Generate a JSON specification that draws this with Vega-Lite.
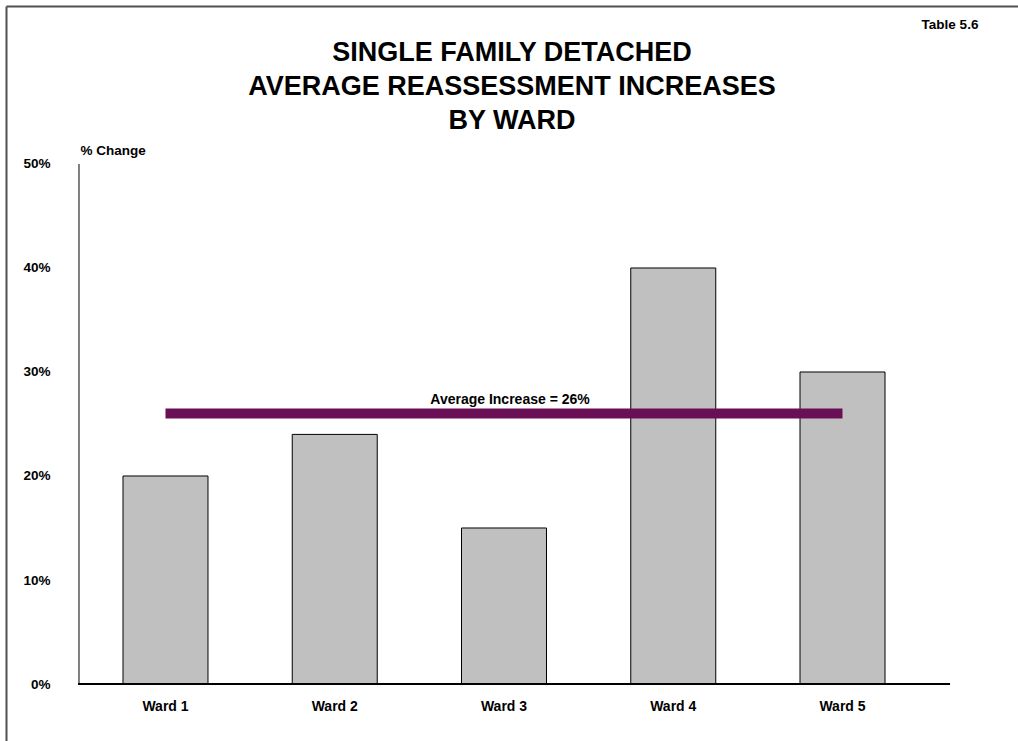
{
  "$schema": "https://vega.github.io/schema/vega-lite/v6.json",
  "width": 1012,
  "height": 735,
  "autosize": {"type": "none"},
  "padding": {"left": 6, "top": 6, "right": 0, "bottom": 0},
  "background": "white",
  "title": {
    "text": ["SINGLE FAMILY DETACHED", "AVERAGE REASSESSMENT INCREASES", "BY WARD"],
    "orient": "top",
    "anchor": "middle",
    "frame": "group",
    "offset": -128.5,
    "baseline": "top",
    "lineHeight": 34,
    "font": "Liberation Sans",
    "fontSize": 27,
    "fontWeight": "bold",
    "color": "black"
  },
  "config": {"view": {"stroke": null}, "font": "Liberation Sans"},
  "datasets": {
    "wards": [
      {"ward": "Ward 1", "change": 0.20},
      {"ward": "Ward 2", "change": 0.24},
      {"ward": "Ward 3", "change": 0.15},
      {"ward": "Ward 4", "change": 0.40},
      {"ward": "Ward 5", "change": 0.30}
    ],
    "average": [{"label": "Average Increase", "value": 0.26}],
    "furniture": [{}]
  },
  "layer": [
    {
      "data": {"name": "wards"},
      "mark": {"type": "bar", "fill": "#c0c0c0", "stroke": "black", "strokeWidth": 1},
      "encoding": {
        "x": {
          "field": "ward",
          "type": "nominal",
          "sort": null,
          "scale": {"paddingInner": 0.4978, "paddingOuter": 0.7385, "align": 0.468},
          "axis": {
            "orient": "top",
            "domain": true,
            "domainColor": "#505050",
            "domainWidth": 2,
            "labels": false,
            "ticks": false,
            "grid": false,
            "title": "Table 5.6",
            "titleX": 943.5,
            "titleY": 18,
            "titleAlign": "center",
            "titleBaseline": "middle",
            "titleAngle": 0,
            "titleFont": "Liberation Sans",
            "titleFontSize": 13.5,
            "titleFontWeight": "bold",
            "titleColor": "black"
          }
        },
        "y": {
          "field": "change",
          "type": "quantitative",
          "scale": {"domain": [-0.0548, 0.6519], "nice": false, "zero": false},
          "axis": {
            "orient": "left",
            "values": [0, 0.1, 0.2, 0.3, 0.4, 0.5],
            "format": ".0%",
            "domain": true,
            "domainColor": "#505050",
            "domainWidth": 2,
            "ticks": false,
            "tickSize": 0,
            "grid": false,
            "labelPadding": -44,
            "labelAlign": "right",
            "labelBaseline": "middle",
            "labelFont": "Liberation Sans",
            "labelFontSize": 13.5,
            "labelFontWeight": "bold",
            "labelColor": "black",
            "labelOverlap": false,
            "labelFlush": false,
            "title": "% Change",
            "titleAngle": 0,
            "titleX": 74,
            "titleY": 144,
            "titleAlign": "left",
            "titleBaseline": "middle",
            "titleFont": "Liberation Sans",
            "titleFontSize": 13.5,
            "titleFontWeight": "bold",
            "titleColor": "black"
          }
        },
        "y2": {"datum": 0}
      }
    },
    {
      "data": {"name": "furniture"},
      "mark": {"type": "rule", "color": "black", "strokeWidth": 1},
      "encoding": {
        "x": {"datum": "Ward 1", "type": "nominal", "bandPosition": -0.5176},
        "y": {"datum": 0, "type": "quantitative"},
        "y2": {"datum": 0.5}
      }
    },
    {
      "data": {"name": "furniture"},
      "mark": {"type": "rule", "color": "black", "strokeWidth": 2},
      "encoding": {
        "x": {"datum": "Ward 1", "type": "nominal", "bandPosition": -0.529},
        "x2": {"datum": "Ward 5", "bandPosition": 1.765},
        "y": {"datum": 0, "type": "quantitative"}
      }
    },
    {
      "data": {"name": "average"},
      "mark": {"type": "rule", "color": "#6a0f56", "strokeWidth": 10},
      "encoding": {
        "x": {"datum": "Ward 1", "type": "nominal"},
        "x2": {"datum": "Ward 5"},
        "y": {"field": "value", "type": "quantitative"}
      }
    },
    {
      "data": {"name": "average"},
      "mark": {
        "type": "text",
        "text": {"expr": "datum.label + ' = ' + format(datum.value, '.0%')"},
        "font": "Liberation Sans",
        "fontSize": 14,
        "fontWeight": "bold",
        "color": "black",
        "baseline": "middle",
        "align": "center",
        "dx": 6,
        "dy": -14
      },
      "encoding": {
        "x": {"datum": "Ward 3", "type": "nominal"},
        "y": {"field": "value", "type": "quantitative"}
      }
    },
    {
      "data": {"name": "wards"},
      "mark": {
        "type": "text",
        "font": "Liberation Sans",
        "fontSize": 14,
        "fontWeight": "bold",
        "color": "black",
        "baseline": "middle",
        "align": "center",
        "dy": 23
      },
      "encoding": {
        "x": {"field": "ward", "type": "nominal"},
        "y": {"datum": 0, "type": "quantitative"},
        "text": {"field": "ward"}
      }
    }
  ]
}
